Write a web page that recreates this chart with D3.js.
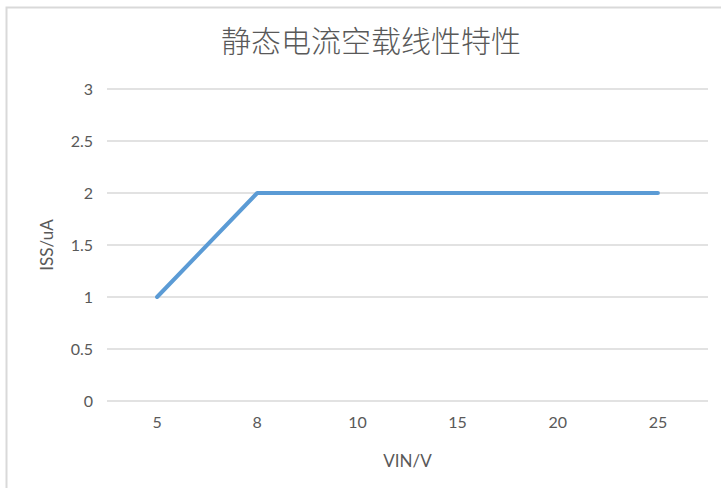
<!DOCTYPE html>
<html>
<head>
<meta charset="utf-8">
<script src="https://cdn.jsdelivr.net/npm/d3@7"></script>
<style>
  body { margin: 0; background: #fff; }
  svg { display: block; }
</style>
</head>
<body>
<svg id="chart" width="721" height="488"></svg>
<script>
// data
const vin = ["5", "8", "10", "15", "20", "25"];
const iss = [1, 2, 2, 2, 2, 2];
const yTicks = [0, 0.5, 1, 1.5, 2, 2.5, 3];

const width = 721, height = 488;
const margin = { top: 89, right: 13, bottom: 87, left: 107 };
const labelFont = "Lato, 'Open Sans', sans-serif";

const svg = d3.select("#chart");

// chart frame (only top and left edges show in the crop)
svg.append("path")
  .attr("d", "M6.5,488 V7.5 H721")
  .attr("fill", "none")
  .attr("stroke", "#d9d9d9")
  .attr("stroke-width", 2);

const x = d3.scaleBand()
  .domain(vin)
  .range([margin.left, width - margin.right]);

const y = d3.scaleLinear()
  .domain([0, 3])
  .range([height - margin.bottom, margin.top]);

// gridlines
svg.append("g")
  .selectAll("line")
  .data(yTicks)
  .join("line")
  .attr("x1", margin.left)
  .attr("x2", width - margin.right)
  .attr("y1", d => y(d))
  .attr("y2", d => y(d))
  .attr("stroke", "#d9d9d9")
  .attr("stroke-width", 1.5);

// y axis labels
const yAxis = g => g
  .attr("transform", "translate(" + (margin.left - 14) + ",0)")
  .call(d3.axisLeft(y).tickValues(yTicks).tickSize(0).tickPadding(0).tickFormat(d3.format("")))
  .call(g => g.select(".domain").remove())
  .call(g => g.selectAll("text")
    .attr("fill", "#595959")
    .attr("font-size", 16)
    .attr("font-family", labelFont));

// x axis labels
const xAxis = g => g
  .attr("transform", "translate(0," + (height - margin.bottom + 16) + ")")
  .call(d3.axisBottom(x).tickSize(0).tickPadding(0))
  .call(g => g.select(".domain").remove())
  .call(g => g.selectAll("text")
    .attr("fill", "#595959")
    .attr("font-size", 16)
    .attr("font-family", labelFont));

svg.append("g").call(yAxis);
svg.append("g").call(xAxis);

// the series line
const line = d3.line()
  .x((d, i) => x(vin[i]) + x.bandwidth() / 2)
  .y(d => y(d));

svg.append("path")
  .datum(iss)
  .attr("d", line)
  .attr("fill", "none")
  .attr("stroke", "#5b9bd5")
  .attr("stroke-width", 4)
  .attr("stroke-linecap", "round")
  .attr("stroke-linejoin", "round");

// title
svg.append("text")
  .attr("x", 371)
  .attr("y", 52)
  .attr("text-anchor", "middle")
  .attr("fill", "#595959")
  .attr("font-size", 30)
  .attr("font-weight", 300)
  .attr("font-family", "'Noto Sans CJK SC', sans-serif")
  .text("静态电流空载线性特性");

// axis titles
svg.append("text")
  .attr("x", (margin.left + width - margin.right) / 2)
  .attr("y", 467)
  .attr("text-anchor", "middle")
  .attr("fill", "#595959")
  .attr("font-size", 17)
  .attr("font-family", labelFont)
  .text("VIN/V");

svg.append("text")
  .attr("transform", "translate(53," + y(1.5) + ") rotate(-90)")
  .attr("text-anchor", "middle")
  .attr("fill", "#595959")
  .attr("font-size", 17)
  .attr("font-family", labelFont)
  .text("ISS/uA");
</script>
</body>
</html>
